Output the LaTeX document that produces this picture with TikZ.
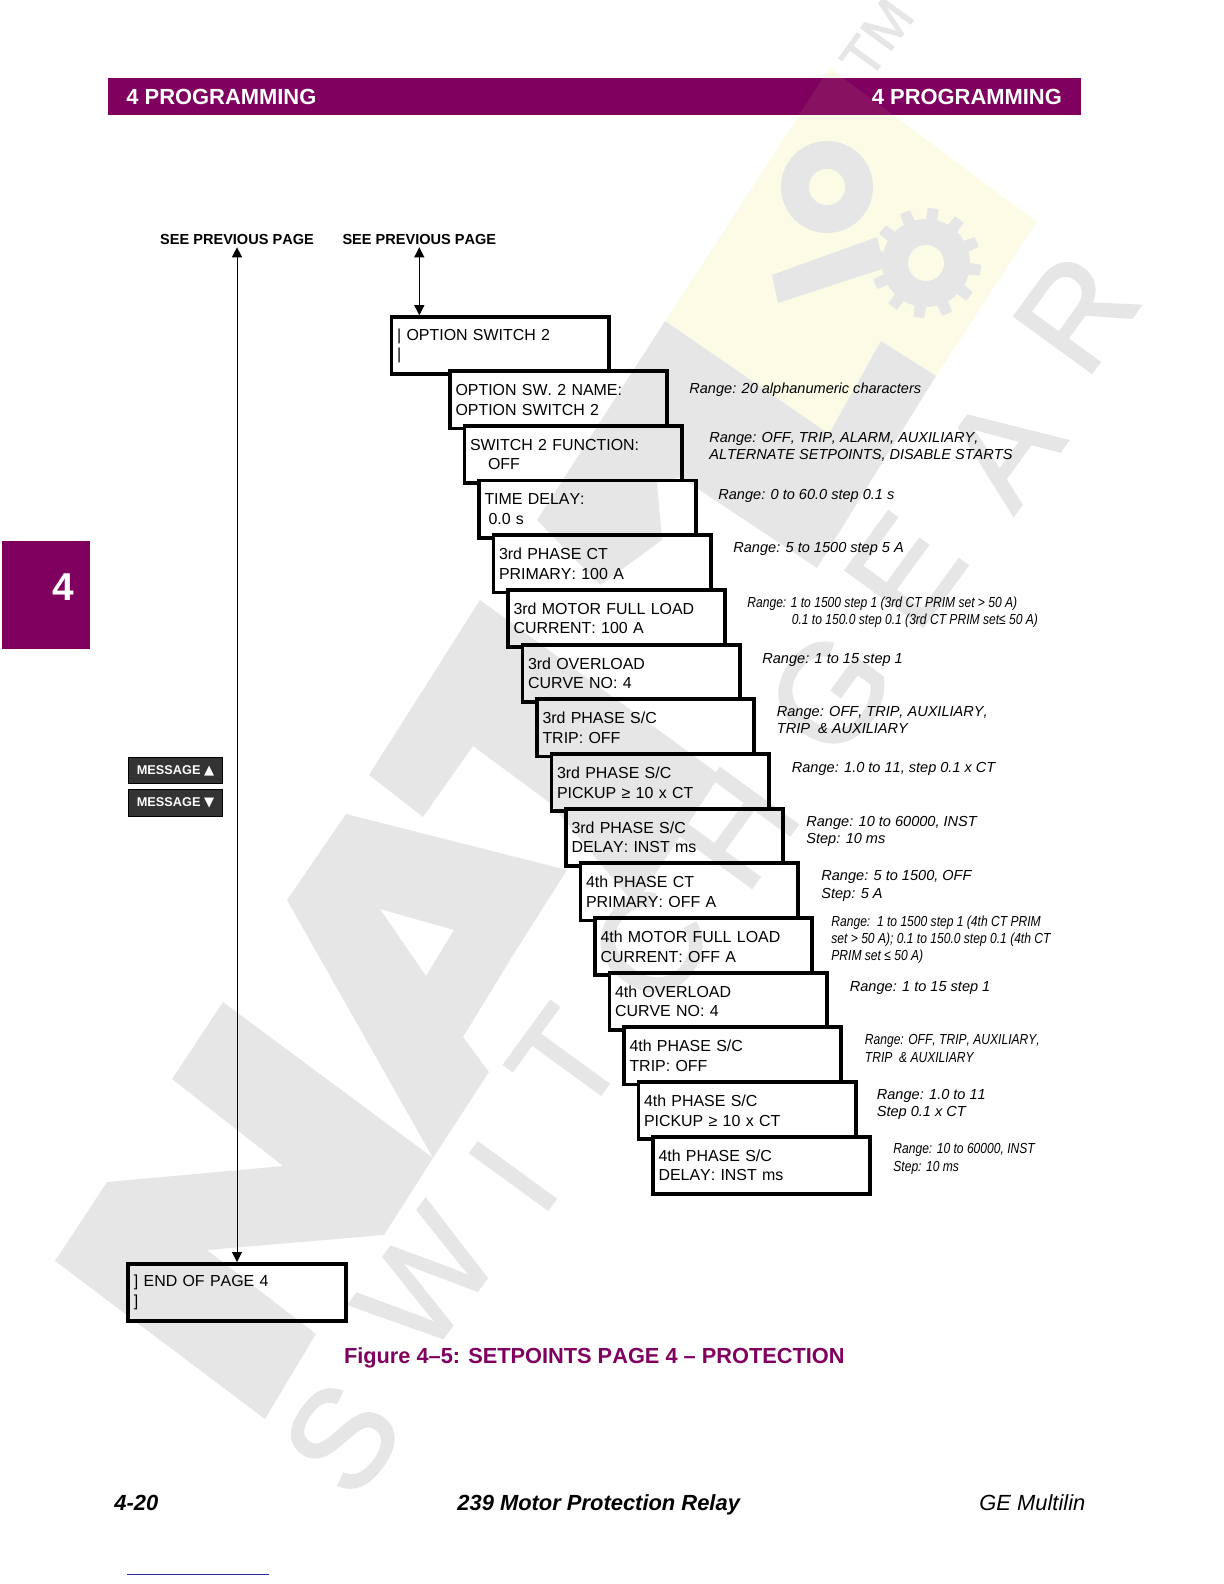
\documentclass[tikz,border=0pt]{standalone}
\usepackage{fontspec}
\setmainfont[Kerning=Off]{Liberation Sans}
\newfontfamily\narrowfont[FakeStretch=0.83, Kerning=Off]{Liberation Sans}
\newfontfamily\markfont[FakeBold=1.6]{Liberation Sans}
\newfontfamily\symbolfont{DejaVu Sans}
\usetikzlibrary{arrows.meta, positioning, calc}
\definecolor{relaypurple}{HTML}{800060}
\definecolor{markgray}{HTML}{E6E6E6}
\definecolor{markyellow}{HTML}{FBFBE6}
\definecolor{btndark}{HTML}{333333}
\definecolor{footblue}{HTML}{2A2AA0}

\begin{document}
\begin{tikzpicture}[
  x=0.5bp, y=-0.5bp,
  setbox/.style={rectangle, draw=black, line width=1.9bp, fill=white, text width=103.1bp, inner xsep=2.8bp, inner ysep=0pt, minimum height=28.6bp, align=left, font=\fontsize{8}{9.8}\selectfont},
  nextbox/.style={at={($(#1.center)+(14.5,54.68)$)}},
  rangelabel/.style={anchor=west, inner sep=0pt, align=left, font=\fontsize{7.3}{8.65}\selectfont\itshape},
  rangenarrow/.style={anchor=west, inner sep=0pt, align=left, font=\fontsize{7.3}{8.65}\selectfont\narrowfont\itshape},
  seelabel/.style={inner xsep=0pt, inner ysep=1.4pt, font=\fontsize{7.3}{9}\selectfont\bfseries},
  headlabel/.style={anchor=base west, inner sep=0pt, text=white, font=\fontsize{11}{13}\selectfont\bfseries},
  btnbox/.style={rectangle, draw=black, line width=0.5bp, fill=btndark, text=white, minimum width=47.2bp, minimum height=13.2bp, inner sep=0pt, font=\fontsize{6.4}{8}\selectfont\bfseries},
  footlabel/.style={anchor=base west, inner sep=0pt, font=\fontsize{11}{13}\selectfont\bfseries\itshape},
  markletter/.style={rotate=54, inner sep=0pt, text=markgray, font=\fontsize{70}{70}\selectfont\markfont},
  link/.style={{Triangle[length=5bp,width=5bp]}-{Triangle[length=5bp,width=5bp]}, line width=0.5bp, black}
]
  \useasboundingbox (0,0) rectangle (1224,1584);

  % Page furniture first: band, side tab, caption and footer.
  \node[rectangle, fill=relaypurple, anchor=north west, minimum width=486.5bp, minimum height=18.5bp, inner sep=0pt] (band) at (108,78) {};
  \node[headlabel] (headl) at (126,104) {4 PROGRAMMING};
  \node[headlabel] (headr) at (871.5,104) {4 PROGRAMMING};
  \node[rectangle, fill=relaypurple, anchor=north west, minimum width=44bp, minimum height=53.9bp, inner sep=0pt] (tab) at (2,541) {};
  \node[text=white, inner sep=0pt, font=\fontsize{19.5}{21}\selectfont\bfseries] (tabno) at (63,587) {4};
  \node[anchor=base west, inner sep=0pt, text=relaypurple, font=\fontsize{10.93}{13}\selectfont\bfseries] (caption) at (343.6,1363) {Figure 4--5: SETPOINTS PAGE 4 -- PROTECTION};
  \node[footlabel] (footl) at (114,1510) {4-20};
  \node[footlabel] (footc) at (457,1510) {239 Motor Protection Relay};
  \node[footlabel, font=\fontsize{11}{13}\selectfont\itshape] (footr) at (979,1510) {GE Multilin};
  \coordinate (rulea) at (127,1574);
  \coordinate (ruleb) at (269,1574);
  \draw[footblue, line width=0.5bp] (rulea) -- (ruleb);

  \node[btnbox] (msgup) at (175.5,770.5) {MESSAGE {\symbolfont\fontsize{6.6}{8}\selectfont ▲}};
  \node[btnbox] (msgdown) at (175.5,803) {MESSAGE {\symbolfont\fontsize{6.6}{8}\selectfont ▼}};

  % The stair of setting boxes, each one hiding the foot of the one before.
  \node[setbox] (b0) at (500.2,345.7) {| OPTION SWITCH 2\\|};
  \node[setbox] (b1) at (558.6,399.8) {OPTION SW. 2 NAME:\\OPTION SWITCH 2};
  \node[setbox, nextbox=b1] (b2) {SWITCH 2 FUNCTION:\\\hspace*{9bp}OFF};
  \node[setbox, nextbox=b2] (b3) {TIME DELAY:\\\hspace*{2bp}0.0 s};
  \node[setbox, nextbox=b3] (b4) {3rd PHASE CT\\PRIMARY: 100 A};
  \node[setbox, nextbox=b4] (b5) {3rd MOTOR FULL LOAD\\CURRENT: 100 A};
  \node[setbox, nextbox=b5] (b6) {3rd OVERLOAD\\CURVE NO: 4};
  \node[setbox, nextbox=b6] (b7) {3rd PHASE S/C\\TRIP: OFF};
  \node[setbox, nextbox=b7] (b8) {3rd PHASE S/C\\PICKUP ≥ 10 x CT};
  \node[setbox, nextbox=b8] (b9) {3rd PHASE S/C\\DELAY: INST ms};
  \node[setbox, nextbox=b9] (b10) {4th PHASE CT\\PRIMARY: OFF A};
  \node[setbox, nextbox=b10] (b11) {4th MOTOR FULL LOAD\\CURRENT: OFF A};
  \node[setbox, nextbox=b11] (b12) {4th OVERLOAD\\CURVE NO: 4};
  \node[setbox, nextbox=b12] (b13) {4th PHASE S/C\\TRIP: OFF};
  \node[setbox, nextbox=b13] (b14) {4th PHASE S/C\\PICKUP ≥ 10 x CT};
  \node[setbox, nextbox=b14] (b15) {4th PHASE S/C\\DELAY: INST ms};
  \node[setbox] (endpage) at (237,1292.5) {] END OF PAGE 4\\]};

  % Ranges beside the boxes, placed one by one since their offsets differ.
  \node[rangelabel] (r1) at (689,390) {Range: 20 alphanumeric characters};
  \node[rangelabel] (r2) at (709,446.5) {Range: OFF, TRIP, ALARM, AUXILIARY,\\ALTERNATE SETPOINTS, DISABLE STARTS};
  \node[rangelabel] (r3) at (718,496) {Range: 0 to 60.0 step 0.1 s};
  \node[rangelabel] (r4) at (733,549) {Range: 5 to 1500 step 5 A};
  \node[rangenarrow] (r5) at (747,612.5) {Range: 1 to 1500 step 1 (3rd CT PRIM set > 50 A)\\\hspace*{22.2bp}0.1 to 150.0 step 0.1 (3rd CT PRIM set≤ 50 A)};
  \node[rangelabel] (r6) at (762,659.5) {Range: 1 to 15 step 1};
  \node[rangelabel] (r7) at (776.5,720) {Range: OFF, TRIP, AUXILIARY,\\TRIP\ \ \& AUXILIARY};
  \node[rangelabel] (r8) at (791.5,768.5) {Range: 1.0 to 11, step 0.1 x CT};
  \node[rangelabel] (r9) at (806,831.5) {Range: 10 to 60000, INST\\Step: 10 ms};
  \node[rangelabel] (r10) at (821,886) {Range: 5 to 1500, OFF\\Step: 5 A};
  \node[rangenarrow] (r11) at (831,939.5) {Range:\ \ 1 to 1500 step 1 (4th CT PRIM\\set > 50 A); 0.1 to 150.0 step 0.1 (4th CT\\PRIM set ≤ 50 A)};
  \node[rangelabel] (r12) at (849.5,988) {Range: 1 to 15 step 1};
  \node[rangenarrow] (r13) at (864.5,1048.5) {Range: OFF, TRIP, AUXILIARY,\\TRIP\ \ \& AUXILIARY};
  \node[rangelabel] (r14) at (876.5,1104.5) {Range: 1.0 to 11\\Step 0.1 x CT};
  \node[rangenarrow] (r15) at (893,1159) {Range: 10 to 60000, INST\\Step: 10 ms};

  \node[seelabel] (prevl) at (237,239) {SEE PREVIOUS PAGE};
  \node[seelabel] (prevr) at (419.3,239) {SEE PREVIOUS PAGE};
  \draw[link] (prevl.south) -- (endpage.north);
  \draw[link] (prevr.south) -- (prevr.south |- b0.north);

  % Watermark goes last and multiplies, so black stays black under it.
  \begin{scope}[blend mode=multiply, transparency group]
    \fill[markyellow] (830,68) -- (1037,222) -- (936,376) -- (881,341) -- (829,434) -- (665,321) -- cycle;
    \fill[markgray] (55,1261) -- (107,1182) -- (283,1166) -- (172,1079) -- (223,1002) -- (433,1158) -- (384,1235) -- (207,1250) -- (316,1334) -- (265,1419) -- cycle;
    \fill[markgray, even odd rule] (433,1158) -- (287,900) -- (346,814) -- (567,870) -- (515,952) -- (463,1037) -- (489,1072) -- cycle (380,909) -- (454,930) -- (426,976) -- cycle;
    \fill[markgray] (369,775) -- (423,817) -- (473,746) -- (550,803) -- (635,905) -- (720,775) -- (480,600) -- cycle;
    \fill[markgray] (537,520) -- (600,585) -- (662,540) -- (657,483) -- (680,477) -- (817,568) -- (936,376) -- (881,341) -- (829,434) -- (665,321) -- cycle;
    \fill[markgray] (827,187) circle[radius=46];
    \fill[markyellow] (827,187) circle[radius=18];
    \fill[markgray] (772,275) -- (778,303) -- (885,268) -- (877,237) -- cycle;
    \fill[markgray] plot[domain=0:360, samples=193, variable=\t] ({926+(sin(12*\t)>0?55:44)*cos(\t)}, {263+(sin(12*\t)>0?55:44)*sin(\t)}) -- cycle;
    \fill[markyellow] (926,263) circle[radius=18];
    \foreach \ch/\nm/\cx/\cy in {S/ms/342/1438, W/mw/426/1280, I/mi/513/1176, T/mt/566/1061, C/mc/650/945, H/mh/736/828, G/mg/830/693, E/me/905/570, A/ma/1002/450, R/mr/1076/313}{
      \node[markletter] (\nm) at (\cx,\cy) {\ch};
    }
    \node[markletter, font=\fontsize{28}{28}\selectfont\markfont] (mtm) at (877,38) {TM};
  \end{scope}
  % Faint lift where the yellow panel crosses the band.
  \fill[white, opacity=.07] (823,78) -- (843,78) -- (893,115) -- (799,115) -- cycle;
\end{tikzpicture}
\end{document}
